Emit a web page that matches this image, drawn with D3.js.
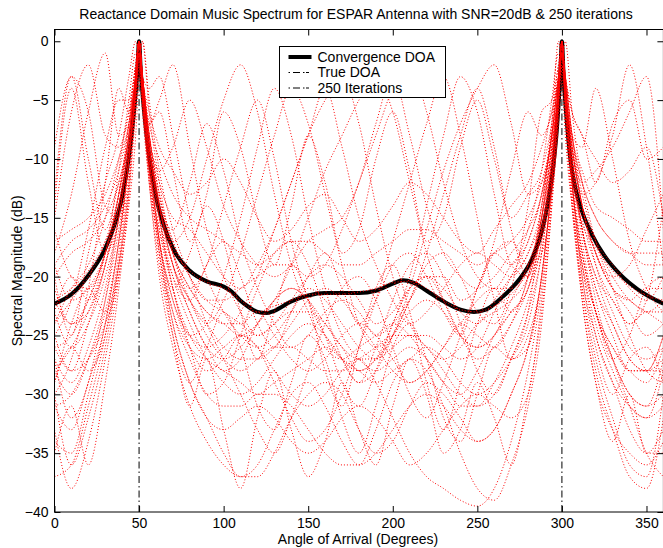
<!DOCTYPE html>
<html>
<head>
<meta charset="utf-8">
<script src="https://cdn.jsdelivr.net/npm/d3@7"></script>
<style>
body { margin: 0; background: #fff; }
text { font-family: "Liberation Sans", Arial, Helvetica, sans-serif; }
</style>
</head>
<body>
<svg id="chart" width="663" height="548"></svg>
<script>
// axis ticks
const xTicks = [0, 50, 100, 150, 200, 250, 300, 350]
const yTicks = [-40, -35, -30, -25, -20, -15, -10, -5, 0]
const trueDOA = [50, 300]
const legendLabels = ['Convergence DOA', 'True DOA', '250 Iterations']

// convergence spectrum (thick black)
const convAngles = [0, 10, 20, 30, 35, 40, 44, 47, 49, 50, 51, 53, 56, 60, 65, 70, 80, 90, 100, 105, 110, 115, 120, 125, 130, 140, 150, 160, 170, 180, 190, 200, 206, 212, 220, 230, 240, 248, 255, 265, 275, 282, 288, 292, 295, 297, 299, 300, 301, 303, 305, 308, 312, 318, 325, 335, 345, 360]
const convValues = [-22.3, -21.5, -19.9, -17.6, -15.8, -13.2, -9.8, -6, -2.5, 0, -2.5, -6, -9.8, -13.2, -15.8, -17.6, -19.5, -20.4, -20.85, -21.3, -22.05, -22.6, -23, -23.1, -22.9, -22.1, -21.6, -21.4, -21.4, -21.4, -21.2, -20.6, -20.3, -20.5, -21.2, -22.1, -22.8, -23, -22.8, -21.7, -20.2, -18.6, -16.2, -13.5, -10.5, -7.5, -3, 0, -3, -7, -10, -12.5, -14.5, -16.5, -18.2, -19.9, -21.1, -22.3]

// angle grid shared by the iteration runs (red dotted)
const runAngles = [0, 10, 20, 30, 38, 44, 48, 50, 52, 56, 62, 70, 80, 90, 100, 110, 120, 130, 140, 150, 160, 170, 180, 190, 200, 210, 220, 230, 240, 250, 260, 270, 280, 288, 294, 298, 300, 302, 306, 312, 320, 330, 340, 350, 360]

const run01 = [-22,-21,-19.5,-17, -14,-9,-4,0,-4,-9,-13.5, -17.5,-19.5,-20.5,-21,-22,-23,-22.5,-22,-21.5,-21.5,-21.5,-21.3,-21,-20.5,-20.4,-21,-22,-22.8,-23,-22.5,-21.5,-19.5, -16.5,-11,-5,0,-5,-11,-15.5, -17.5,-19.5,-20.8,-21.6,-22]
const run02 = [-30,-36,-32,-26, -19,-11,-5,-1,-5,-11,-18, -24,-29,-32,-35,-37,-36,-33,-30,-29,-31,-34,-36,-33,-29,-27,-28,-31,-35,-38,-39,-36,-31, -24,-14,-6,0,-6,-14,-21, -27,-32,-36,-37,-30]
const run03 = [-15,-6,-2,-8, -9,-6,-3,0,-3,-6,-9, -11,-13,-12,-10,-12,-15,-17,-16,-14,-13,-15,-17,-16,-14,-12,-13,-15,-17,-18,-16,-14,-12, -9,-6,-3,-1,-3,-6,-8, -10,-12,-11,-9,-15]
const run04 = [-25,-28,-24,-19, -13,-7,-2,0,-3,-8,-14, -19,-23,-26,-28,-27,-24,-22,-21,-22,-25,-29,-31,-28,-24,-21,-20,-22,-25,-27,-26,-24,-21, -17,-10,-4,-1,-4,-10,-16, -20,-24,-27,-28,-25]
const run05 = [-20,-18,-17,-15, -12,-8,-3,0,-3,-8,-12, -15,-16,-18,-20,-21,-19,-16,-12,-8,-4,-9,-15,-19,-22,-24,-23,-21,-19,-18,-19,-20,-18, -15,-10,-5,-2,-5,-10,-14, -17,-19,-21,-22,-20]
const run06 = [-28,-30,-27,-22, -16,-10,-4,-1,-4,-10,-17, -22,-26,-28,-27,-25,-26,-29,-32,-34,-33,-30,-26,-22,-17,-12,-7,-3,-8,-15,-22,-27,-26, -20,-12,-5,0,-5,-12,-19, -24,-28,-31,-32,-28]
const run07 = [-24,-22,-20,-17, -13,-8,-3,0,-4,-7,-5, -2,-9,-16,-20,-23,-25,-24,-22,-20,-19,-20,-22,-24,-23,-21,-20,-21,-23,-24,-22,-20,-18, -14,-8,-3,0,-3,-8,-13, -17,-20,-22,-23,-24]
const run08 = [-19,-22,-21,-18, -14,-9,-4,0,-4,-9,-14, -18,-21,-23,-24,-24,-23,-25,-27,-28,-27,-25,-24,-25,-27,-29,-28,-26,-24,-25,-26,-24,-20, -15,-9,-4,0,-4,-9,-13, -12,-8,-2,-9,-19]
const run09 = [-33,-38,-34,-27, -20,-12,-5,-1,-5,-12,-20, -26,-31,-34,-36,-37,-37,-35,-32,-30,-29,-30,-33,-35,-34,-31,-29,-30,-32,-34,-33,-30,-26, -20,-12,-5,0,-5,-12,-20, -25,-29,-33,-35,-33]
const run10 = [-21,-24,-23,-19, -14,-8,-3,0,-3,-9,-14, -16,-12,-7,-11,-17,-21,-24,-26,-25,-23,-22,-23,-25,-24,-22,-20,-20,-22,-21,-17,-11,-6, -8,-6,-3,-1,-4,-9,-14, -18,-21,-22,-21,-21]
const run11 = [-26,-25,-22,-18, -13,-7,-2,0,-3,-8,-13, -18,-21,-19,-14,-9,-5,-10,-17,-22,-25,-27,-28,-27,-25,-22,-18,-13,-8,-4,-9,-16,-20, -15,-9,-4,-1,-4,-9,-14, -19,-23,-26,-27,-26]
const run12 = [-27,-29,-26,-21, -15,-9,-4,-2,-5,-10,-16, -21,-25,-27,-28,-29,-30,-29,-28,-27,-26,-27,-28,-29,-28,-27,-26,-27,-29,-30,-29,-27,-24, -18,-11,-4,0,-4,-11,-18, -23,-26,-28,-28,-27]
const run13 = [-14,-4,-12,-18, -15,-9,-4,0,-4,-9,-14, -18,-21,-23,-24,-25,-24,-22,-19,-15,-11,-8,-5,-3,-6,-12,-18,-22,-25,-26,-25,-23,-21, -16,-10,-4,-1,-4,-10,-15, -19,-22,-24,-22,-14]
const run14 = [-31,-30,-27,-23, -17,-10,-4,0,-4,-10,-17, -23,-27,-30,-31,-31,-30,-30,-31,-33,-35,-36,-36,-35,-33,-31,-30,-31,-33,-34,-33,-30,-26, -20,-12,-5,-1,-5,-12,-19, -25,-29,-31,-32,-31]
const run15 = [-18,-13,-6,-1, -8,-7,-3,0,-3,-8,-13, -17,-20,-22,-22,-21,-20,-19,-19,-20,-19,-16,-12,-8,-4,-2,-6,-12,-17,-20,-21,-19,-17, -13,-8,-3,0,-3,-8,-12, -15,-17,-18,-18,-18]
const run16 = [-31,-33,-29,-24, -17,-10,-4,-1,-5,-11,-18, -23,-26,-27,-26,-25,-26,-28,-30,-31,-30,-28,-27,-29,-32,-35,-37,-38,-39,-39.5,-38,-34,-28, -21,-13,-5,0,-5,-13,-21, -28,-33,-37,-38,-32]
const run17 = [-23,-26,-24,-20, -15,-9,-4,0,-4,-9,-14, -19,-22,-24,-22,-18,-13,-8,-4,-7,-13,-19,-24,-26,-25,-23,-22,-23,-25,-26,-25,-22,-19, -15,-9,-4,-1,-4,-8,-9, -4,-10,-17,-21,-23]
const run18 = [-17,-16,-15,-13, -10,-7,-3,0,-3,-7,-10, -13,-15,-16,-17,-18,-19,-18,-17,-17,-18,-19,-19,-18,-17,-16,-16,-17,-18,-19,-18,-17,-15, -12,-8,-3,-1,-3,-8,-11, -14,-15,-16,-17,-17]
const run19 = [-25,-22,-16,-9, -5,-5,-2,0,-3,-9,-15, -20,-24,-27,-29,-30,-29,-27,-25,-24,-25,-27,-29,-28,-25,-21,-16,-11,-7,-4,-2,-7,-13, -12,-8,-4,0,-4,-10,-16, -21,-25,-28,-28,-25]
const run20 = [-37,-36,-31,-25, -18,-10,-4,0,-4,-10,-17, -22,-25,-26,-25,-23,-20,-16,-12,-8,-5,-3,-7,-14,-20,-24,-26,-27,-26,-24,-23,-22,-20, -16,-10,-4,-1,-4,-10,-16, -22,-27,-31,-35,-37]
const run21 = [-20,-25,-18,-12, -8,-3,0,-2,-6,-12,-17, -21,-18,-14,-17,-23,-27,-23,-19,-22,-28,-31,-26,-21,-19,-23,-29,-33,-29,-24,-21,-23,-20, -14,-7,-2,-1,-4,-12,-18, -23,-27,-25,-21,-20]
const run22 = [-29,-24,-21,-23, -19,-13,-6,-2,0,-5,-11, -16,-20,-24,-27,-30,-33,-35,-32,-28,-24,-21,-20,-22,-26,-30,-32,-29,-25,-21,-18,-17,-19, -18,-13,-7,-3,0,-6,-12, -17,-21,-25,-28,-29]
const run23 = [-9,-3,-10,-16, -12,-8,-3,0,-3,-7,-6, -11,-17,-13,-6,-9,-15,-19,-14,-8,-12,-18,-16,-10,-6,-11,-17,-15,-9,-5,-10,-15,-13, -11,-7,-3,-1,-3,-6,-8, -12,-7,-5,-10,-9]
const run24 = [-35,-31,-36,-29, -21,-13,-5,-1,-4,-11,-18, -25,-31,-27,-33,-38,-32,-28,-33,-37,-34,-29,-33,-36,-31,-27,-30,-35,-33,-29,-32,-36,-30, -23,-14,-6,0,-6,-14,-22, -29,-34,-30,-35,-35]
const run25 = [-23,-20,-22,-18, -11,-5,-1,-1,-5,-11,-16, -20,-22,-19,-17,-20,-24,-26,-23,-20,-18,-21,-24,-22,-19,-18,-20,-23,-25,-21,-18,-19,-16, -11,-5,-1,-1,-5,-11,-16, -20,-22,-24,-23,-23]
const run26 = [-27,-32,-29,-22, -15,-9,-4,0,-4,-9,-15, -21,-26,-30,-29,-25,-21,-18,-17,-19,-23,-27,-29,-26,-22,-19,-18,-20,-24,-28,-30,-27,-23, -18,-11,-5,-2,-6,-12,-18, -23,-27,-30,-31,-27]
const run27 = [-24,-21,-19,-15, -10,-6,-2,0,-3,-4,-3, -8,-15,-20,-23,-25,-26,-25,-23,-21,-22,-24,-26,-27,-25,-22,-19,-18,-20,-23,-24,-21,-14, -6,-5,-2,0,-3,-9,-14, -18,-21,-23,-25,-24]
const run28 = [-28,-26,-23,-19, -14,-8,-3,0,-3,-9,-14, -17,-15,-10,-5,-2,-6,-13,-19,-23,-26,-27,-26,-25,-24,-25,-27,-29,-30,-28,-25,-23,-21, -16,-10,-4,0,-4,-10,-16, -21,-24,-27,-28,-28]
const run29 = [-16,-20,-21,-18, -13,-8,-3,0,-3,-8,-14, -19,-23,-26,-27,-26,-24,-22,-21,-22,-24,-26,-27,-27,-26,-25,-25,-26,-27,-26,-23,-20,-17, -13,-8,-3,0,-4,-9,-12, -11,-9,-6,-3,-16]
const run30 = [-34,-35,-30,-24, -17,-10,-4,-1,-4,-10,-17, -24,-29,-32,-33,-32,-31,-32,-34,-35,-34,-32,-31,-32,-34,-36,-35,-33,-31,-30,-31,-32,-30, -22,-13,-5,0,-5,-13,-22, -29,-33,-35,-36,-34]
const run31 = [-19,-17,-16,-14, -11,-7,-3,0,-3,-8,-11, -9,-5,-9,-14,-17,-19,-20,-19,-17,-16,-15,-12,-7,-3,-8,-14,-18,-20,-21,-20,-18,-16, -13,-8,-3,-1,-3,-8,-12, -15,-17,-18,-19,-19]
const run32 = [-26,-28,-27,-24, -20,-14,-8,-3,0,-6,-12, -18,-22,-25,-27,-28,-27,-26,-26,-27,-28,-28,-27,-26,-25,-25,-26,-28,-30,-31,-30,-27,-23, -15,-7,0,-3,-8,-14,-19, -23,-26,-28,-29,-26]
const run33 = [-30,-27,-21,-12, -4,-6,-3,0,-3,-9,-15, -21,-25,-24,-20,-15,-9,-4,-8,-15,-21,-25,-27,-28,-27,-26,-27,-29,-31,-31,-29,-26,-22, -17,-10,-4,0,-4,-10,-17, -23,-27,-30,-31,-30]
const run34 = [-13,-3,-6,-14, -15,-10,-4,0,-4,-10,-15, -19,-22,-24,-26,-27,-27,-26,-24,-22,-21,-22,-24,-26,-28,-29,-28,-26,-24,-22,-21,-21,-19, -15,-9,-4,-1,-4,-9,-14, -18,-20,-19,-16,-13]
const run35 = [-29,-26,-28,-25, -19,-12,-5,-1,-5,-12,-19, -25,-29,-26,-23,-26,-31,-33,-29,-25,-27,-32,-35,-31,-26,-24,-27,-32,-34,-30,-26,-27,-25, -20,-12,-5,-1,-5,-12,-20, -26,-30,-27,-26,-29]
const run36 = [-22,-24,-22,-18, -13,-8,-3,0,-3,-8,-13, -17,-20,-22,-23,-24,-25,-24,-23,-23,-24,-26,-28,-27,-24,-20,-14,-8,-3,-6,-13,-19,-20, -14,-8,-3,-1,-3,-8,-14, -18,-21,-22,-23,-22]

const runs = [run01, run02, run03, run04, run05, run06, run07, run08, run09, run10,
	run11, run12, run13, run14, run15, run16, run17, run18, run19, run20,
	run21, run22, run23, run24, run25, run26, run27, run28, run29, run30,
	run31, run32, run33, run34, run35, run36]

const svg = d3.select('#chart')

const plotLeft = 54.5, plotRight = 663.4, plotTop = 29.5, plotBottom = 512

const xScale = d3.scaleLinear().domain([0, 360]).range([plotLeft, plotRight])
const yScale = d3.scaleLinear().domain([-40, 1]).range([plotBottom, plotTop])

svg.append('defs').append('clipPath').attr('id', 'plot')
	.append('rect')
	.attr('x', plotLeft).attr('y', plotTop)
	.attr('width', plotRight - plotLeft).attr('height', plotBottom - plotTop)

const plot = svg.append('g').attr('clip-path', 'url(#plot)')

// convergence line first, the iterations were plotted over it
const convLine = d3.line()
	.curve(d3.curveMonotoneX)
	.x((d, i) => xScale(convAngles[i]))
	.y(d => yScale(d))

plot.append('path')
	.attr('d', convLine(convValues))
	.attr('fill', 'none')
	.attr('stroke', '#000')
	.attr('stroke-width', 4)

// true DOA, dash-dot
plot.selectAll('line.doa')
	.data(trueDOA)
	.join('line')
	.attr('class', 'doa')
	.attr('x1', d => xScale(d)).attr('x2', d => xScale(d))
	.attr('y1', yScale(-40)).attr('y2', yScale(0))
	.attr('stroke', '#000')
	.attr('stroke-width', 1)
	.attr('stroke-dasharray', '7,3,1.5,3')

const runLine = d3.line()
	.curve(d3.curveMonotoneX)
	.x((d, i) => xScale(runAngles[i]))
	.y(d => yScale(d))

plot.selectAll('path.run')
	.data(runs)
	.join('path')
	.attr('class', 'run')
	.attr('d', runLine)
	.attr('fill', 'none')
	.attr('stroke', '#ff0000')
	.attr('stroke-width', 1)
	.attr('stroke-dasharray', '1,2')

// axes, MATLAB style ticks pointing inward
const axisFont = g => g.selectAll('text')
	.attr('font-size', 14)
	.attr('fill', '#000')
	.style('font-family', '"Liberation Sans", Arial, sans-serif')

svg.append('g')
	.attr('transform', `translate(0,${plotBottom})`)
	.call(d3.axisBottom(xScale).tickValues(xTicks).tickSizeInner(-6).tickSizeOuter(0).tickPadding(6))
	.call(g => g.select('.domain').remove())
	.call(axisFont)

svg.append('g')
	.attr('transform', `translate(0,${plotTop})`)
	.call(d3.axisTop(xScale).tickValues(xTicks).tickSizeInner(-6).tickSizeOuter(0).tickFormat(''))
	.call(g => g.select('.domain').remove())

svg.append('g')
	.attr('transform', `translate(${plotLeft},0)`)
	.call(d3.axisLeft(yScale).tickValues(yTicks).tickSizeInner(-6).tickSizeOuter(0).tickPadding(6)
		.tickFormat(d => d < 0 ? '\u2212' + Math.abs(d) : d))
	.call(g => g.select('.domain').remove())
	.call(axisFont)

svg.append('g')
	.attr('transform', `translate(${plotRight},0)`)
	.call(d3.axisRight(yScale).tickValues(yTicks).tickSizeInner(-6).tickSizeOuter(0).tickFormat(''))
	.call(g => g.select('.domain').remove())

svg.append('rect')
	.attr('x', plotLeft).attr('y', plotTop)
	.attr('width', plotRight - plotLeft).attr('height', plotBottom - plotTop)
	.attr('fill', 'none')
	.attr('stroke', '#000')
	.attr('stroke-width', 1)

// legend
const legend = svg.append('g').attr('transform', 'translate(279.5,46.5)')
legend.append('rect')
	.attr('width', 166).attr('height', 51)
	.attr('fill', '#fff').attr('stroke', '#000')

legendLabels.forEach((label, i) => {
	const ly = 10.5 + i * 15.5
	legend.append('line')
		.attr('x1', 9).attr('x2', 32).attr('y1', ly).attr('y2', ly)
		.attr('stroke', '#000')
		.attr('stroke-width', i === 0 ? 4 : 1)
		.attr('stroke-dasharray', i === 0 ? null : '1.5,3,7,3,1.5')
	legend.append('text')
		.attr('x', 38).attr('y', ly)
		.attr('dy', '0.35em')
		.attr('font-size', 14)
		.text(label)
})

// titles
svg.append('text')
	.attr('x', 356).attr('y', 19)
	.attr('text-anchor', 'middle')
	.attr('font-size', 14)
	.text('Reactance Domain Music Spectrum for ESPAR Antenna with SNR=20dB & 250 iterations')

svg.append('text')
	.attr('x', 358).attr('y', 544)
	.attr('text-anchor', 'middle')
	.attr('font-size', 14)
	.text('Angle of Arrival (Degrees)')

svg.append('text')
	.attr('transform', `translate(22,${(plotTop + plotBottom) / 2}) rotate(-90)`)
	.attr('text-anchor', 'middle')
	.attr('font-size', 14)
	.text('Spectral Magnitude (dB)')
</script>
</body>
</html>
